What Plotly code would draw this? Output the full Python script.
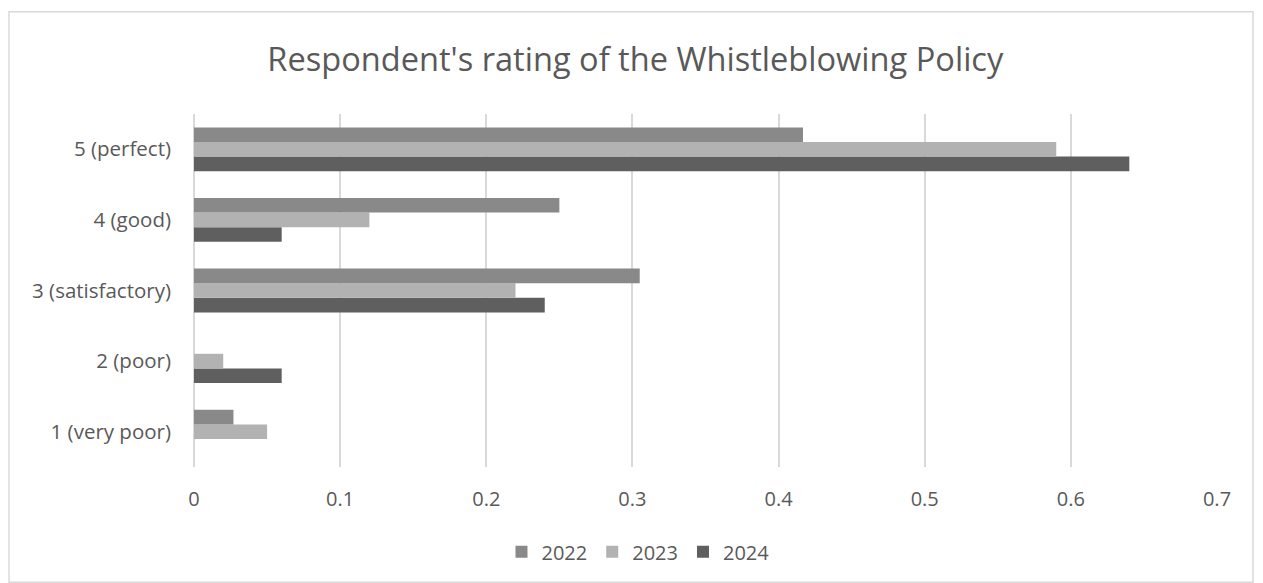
import plotly.graph_objects as go

categories = ["1 (very poor)", "2 (poor)", "3 (satisfactory)", "4 (good)", "5 (perfect)"]
years = ["2022", "2023", "2024"]
v2022 = [0.027, 0.0, 0.305, 0.25, 0.4167]
v2023 = [0.05, 0.02, 0.22, 0.12, 0.59]
v2024 = [0.0, 0.06, 0.24, 0.06, 0.64]
colors = {"2022": "#898989", "2023": "#b2b2b2", "2024": "#5f5f5f"}
series = {"2022": v2022, "2023": v2023, "2024": v2024}
x_ticks = [0, 0.1, 0.2, 0.3, 0.4, 0.5, 0.6, 0.7]

fig = go.Figure()
for yr in reversed(years):
    fig.add_trace(go.Bar(
        y=categories, x=series[yr], name=yr, orientation="h",
        marker=dict(color=colors[yr], line=dict(color=colors[yr], width=0)),
    ))

font_family = "Open Sans, sans-serif"
fig.update_layout(
    width=1263, height=583,
    paper_bgcolor="white", plot_bgcolor="white",
    barmode="group", bargap=0.38, bargroupgap=0,
    title=dict(text="Respondent's rating of the Whistleblowing Policy",
               x=0.503, xanchor="center", y=0.897, yanchor="middle",
               font=dict(family=font_family, size=32.6, color="#595959")),
    margin=dict(l=194, r=46, t=114, b=116),
    xaxis=dict(range=[0, 0.7], tickvals=x_ticks, ticktext=[str(t) for t in x_ticks],
               showgrid=True, gridcolor="#d9d9d9", gridwidth=1.5, zeroline=True,
               zerolinecolor="#d9d9d9", zerolinewidth=1.5, showline=False,
               tickfont=dict(family=font_family, size=20, color="#595959"),
               ticks="", ticklabelstandoff=18),
    yaxis=dict(showgrid=False, showline=False, zeroline=False, ticks="",
               tickfont=dict(family=font_family, size=20.5, color="#595959"),
               ticklabelstandoff=22),
    legend=dict(orientation="h", x=0.434, xanchor="center", y=-0.24, yanchor="middle",
                traceorder="reversed", itemwidth=30,
                font=dict(family=font_family, size=20, color="#595959")),
    showlegend=True,
)
fig.add_shape(type="rect", xref="paper", yref="paper",
              x0=-0.1808, x1=1.0352, y0=-0.3267, y1=1.2898,
              line=dict(color="#d9d9d9", width=1.5), fillcolor="rgba(0,0,0,0)", layer="below")

fig.write_html("out.html")
